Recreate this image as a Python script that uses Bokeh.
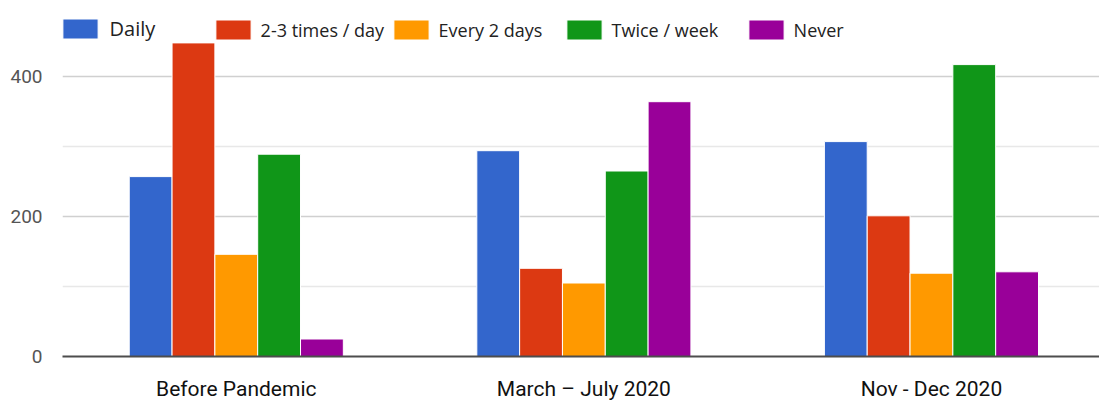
from bokeh.plotting import figure
from bokeh.models import (Range1d, FixedTicker, Legend, LegendItem)
from bokeh.embed import file_html
from bokeh.resources import INLINE

# Survey responses per period
periods = ["Before Pandemic", "March \u2013 July 2020", "Nov - Dec 2020"]
series = ["Daily", "2-3 times / day", "Every 2 days", "Twice / week", "Never"]
daily = [257, 294, 307]
times_2_3 = [448, 126, 201]
every_2_days = [146, 105, 119]
twice_week = [289, 265, 417]
never = [25, 364, 121]
values = [daily, times_2_3, every_2_days, twice_week, never]
colors = ["#3366cc", "#dc3912", "#ff9900", "#109618", "#990099"]
y_ticks = [0, 200, 400]
y_minor = [100, 300, 500]

p = figure(width=1099, height=404, output_backend="svg", toolbar_location=None,
           x_range=Range1d(-0.5, 2.4835), y_range=Range1d(0, 500),
           min_border_left=62, min_border_right=0, min_border_top=6,
           min_border_bottom=48)
p.outline_line_color = None
p.background_fill_color = "white"
p.border_fill_color = "white"

bar_w = 0.1232
renderers = []
for i, (vals, col) in enumerate(zip(values, colors)):
    xs = [k + (i - 2) * bar_w for k in range(len(periods))]
    r = p.vbar(x=xs, top=vals, width=bar_w, bottom=0, fill_color=col,
               line_color="white", line_width=1)
    renderers.append(r)

# axes
p.xaxis.ticker = FixedTicker(ticks=list(range(len(periods))))
p.xaxis.major_label_overrides = {k: name for k, name in enumerate(periods)}
p.xaxis.major_label_text_font = "Roboto"
p.xaxis.major_label_text_font_size = "21px"
p.xaxis.major_label_text_color = "#111111"
p.xaxis.major_label_standoff = 20
p.xaxis.major_tick_out = 0
p.xaxis.major_tick_line_color = None
p.xaxis.minor_tick_line_color = None
p.xaxis.axis_line_color = "#4d4d4d"
p.xaxis.axis_line_width = 2

p.yaxis.ticker = FixedTicker(ticks=y_ticks, minor_ticks=y_minor)
p.yaxis.major_label_text_font = "Roboto"
p.yaxis.major_label_text_font_size = "19px"
p.yaxis.major_label_text_color = "#555555"
p.yaxis.major_tick_out = 0
p.yaxis.minor_tick_out = 0
p.yaxis.major_label_standoff = 20
p.yaxis.major_tick_line_color = None
p.yaxis.minor_tick_line_color = None
p.yaxis.axis_line_color = None

p.xgrid.grid_line_color = None
p.ygrid.grid_line_color = "#d0d0d0"
p.ygrid.grid_line_width = 1.5
p.ygrid.minor_grid_line_color = "#e8e8e8"
p.ygrid.minor_grid_line_width = 1.5

# one legend entry per series, placed along the top of the plot;
# the swatch is drawn at 80% of the glyph box, hence the larger glyph size
legend_x = [-4.4, 148.6, 326.6, 499.6, 681.6]
legend_font = ["20px", "18px", "18px", "18px", "18px"]
legend_standoff = [8, 6, 6, 6, 6]
for name, r, lx, fs, so in zip(series, renderers, legend_x, legend_font, legend_standoff):
    leg = Legend(items=[LegendItem(label=name, renderers=[r])],
                 location=(lx, 314), orientation="horizontal",
                 padding=0, margin=0, spacing=0,
                 glyph_width=44, glyph_height=25, label_height=20,
                 label_standoff=so, label_text_font="Open Sans",
                 label_text_font_size=fs, label_text_color="#222222",
                 border_line_color=None, background_fill_alpha=0)
    p.add_layout(leg, "center")

open("out.html", "w").write(file_html(p, INLINE))
